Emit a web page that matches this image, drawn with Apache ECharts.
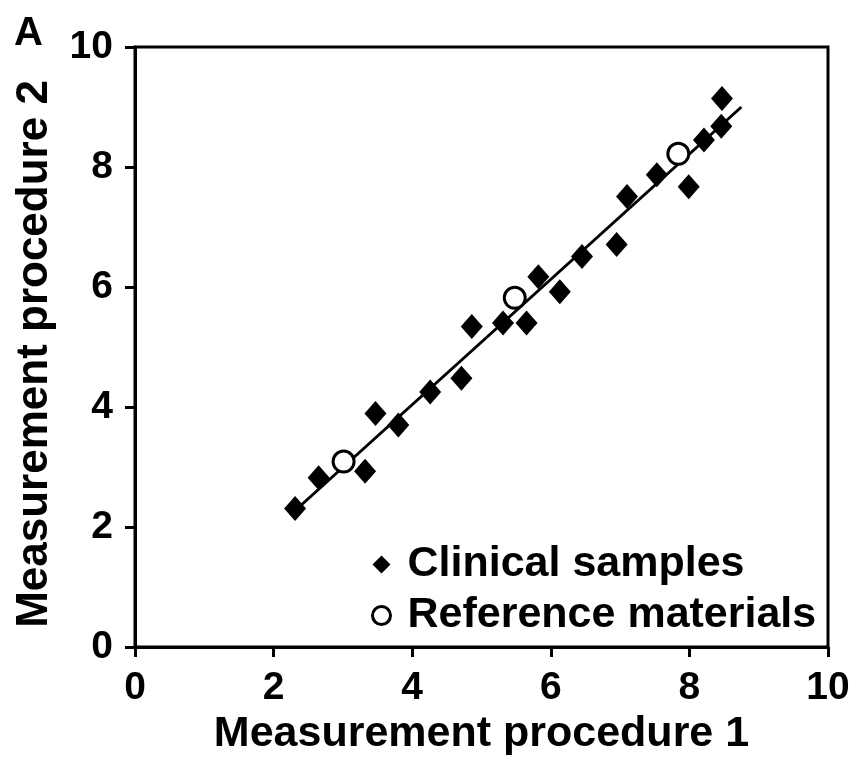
<!DOCTYPE html>
<html>
<head>
<meta charset="utf-8">
<script src="https://cdn.jsdelivr.net/npm/echarts@6/dist/echarts.min.js"></script>
<style>
  html, body { margin: 0; padding: 0; background: #fff; }
  #chart { width: 860px; height: 770px; }
</style>
</head>
<body>
<div id="chart"></div>
<script>
  // clinical samples (diamonds)
  var clinicalX = [2.31, 2.65, 3.32, 3.47, 3.80, 4.26, 4.71, 4.86, 5.31, 5.65, 5.82, 6.13, 6.45, 6.95, 7.10, 7.53, 7.99, 8.21, 8.46, 8.47];
  var clinicalY = [2.31, 2.82, 2.93, 3.89, 3.70, 4.25, 4.48, 5.34, 5.40, 5.40, 6.17, 5.92, 6.51, 6.71, 7.51, 7.87, 7.67, 8.45, 8.68, 9.14];
  // reference materials (open circles)
  var referenceX = [3.01, 5.48, 7.84];
  var referenceY = [3.09, 5.82, 8.22];
  // fitted line end points
  var fitX = [2.24, 8.75];
  var fitY = [2.20, 9.00];
  var tickValues = [0, 2, 4, 6, 8, 10];

  function pairs(xs, ys) {
    return xs.map(function (x, i) { return [x, ys[i]]; });
  }

  var font = 'Liberation Sans, Arial, sans-serif';
  var myChart = echarts.init(document.getElementById('chart'));

  myChart.setOption({
    animation: false,
    backgroundColor: '#fff',
    textStyle: { fontFamily: font },
    grid: {
      left: 135, right: 32, top: 47, bottom: 123,
      outerBoundsMode: 'none',
      containLabel: false,
      show: true, borderColor: '#000', borderWidth: 3
    },
    graphic: [{
      type: 'text', left: 14, top: 14,
      style: { text: 'A', fontSize: 40, fontWeight: 'bold', fontFamily: font, fill: '#000' }
    }],
    legend: {
      orient: 'vertical',
      left: 366, top: 538,
      itemGap: 8,
      itemWidth: 18, itemHeight: 18,
      textStyle: { fontSize: 43, fontWeight: 'bold', color: '#000', fontFamily: font, padding: [0, 0, 0, 12] },
      data: [
        { name: 'Clinical samples', icon: 'diamond', itemStyle: { color: '#000' } },
        { name: 'Reference materials', icon: 'circle', itemStyle: { color: '#fff', borderColor: '#000', borderWidth: 3 } }
      ]
    },
    xAxis: {
      type: 'value', min: 0, max: 10, interval: 2,
      name: 'Measurement procedure 1',
      nameLocation: 'middle', nameGap: 52,
      nameTextStyle: { fontSize: 43, fontWeight: 'bold', color: '#000' },
      axisLine: { onZero: false, lineStyle: { color: '#000', width: 3 } },
      axisTick: { length: 10, lineStyle: { color: '#000', width: 3 } },
      axisLabel: { margin: 22, fontSize: 39, fontWeight: 'bold', color: '#000',
        formatter: function (v) { return tickValues.indexOf(v) >= 0 ? v : ''; } },
      splitLine: { show: false }
    },
    yAxis: {
      type: 'value', min: 0, max: 10, interval: 2,
      name: 'Measurement procedure 2',
      nameLocation: 'middle', nameGap: 78,
      nameTextStyle: { fontSize: 44, fontWeight: 'bold', color: '#000', padding: [0, 14, 0, 0] },
      axisLine: { show: true, onZero: false, lineStyle: { color: '#000', width: 3 } },
      axisTick: { show: true, length: 10, lineStyle: { color: '#000', width: 3 } },
      axisLabel: { margin: 22, fontSize: 39, fontWeight: 'bold', color: '#000' },
      splitLine: { show: false }
    },
    series: [
      {
        name: 'Fit',
        type: 'line',
        data: pairs(fitX, fitY),
        symbol: 'none',
        lineStyle: { color: '#000', width: 3 },
        z: 1
      },
      {
        name: 'Clinical samples',
        type: 'scatter',
        data: pairs(clinicalX, clinicalY),
        symbol: 'diamond',
        symbolSize: [22, 25],
        itemStyle: { color: '#000', opacity: 1 },
        z: 2
      },
      {
        name: 'Reference materials',
        type: 'scatter',
        data: pairs(referenceX, referenceY),
        symbol: 'circle',
        symbolSize: 21,
        itemStyle: { color: '#fff', borderColor: '#000', borderWidth: 3, opacity: 1 },
        z: 3
      }
    ]
  });
</script>
</body>
</html>
